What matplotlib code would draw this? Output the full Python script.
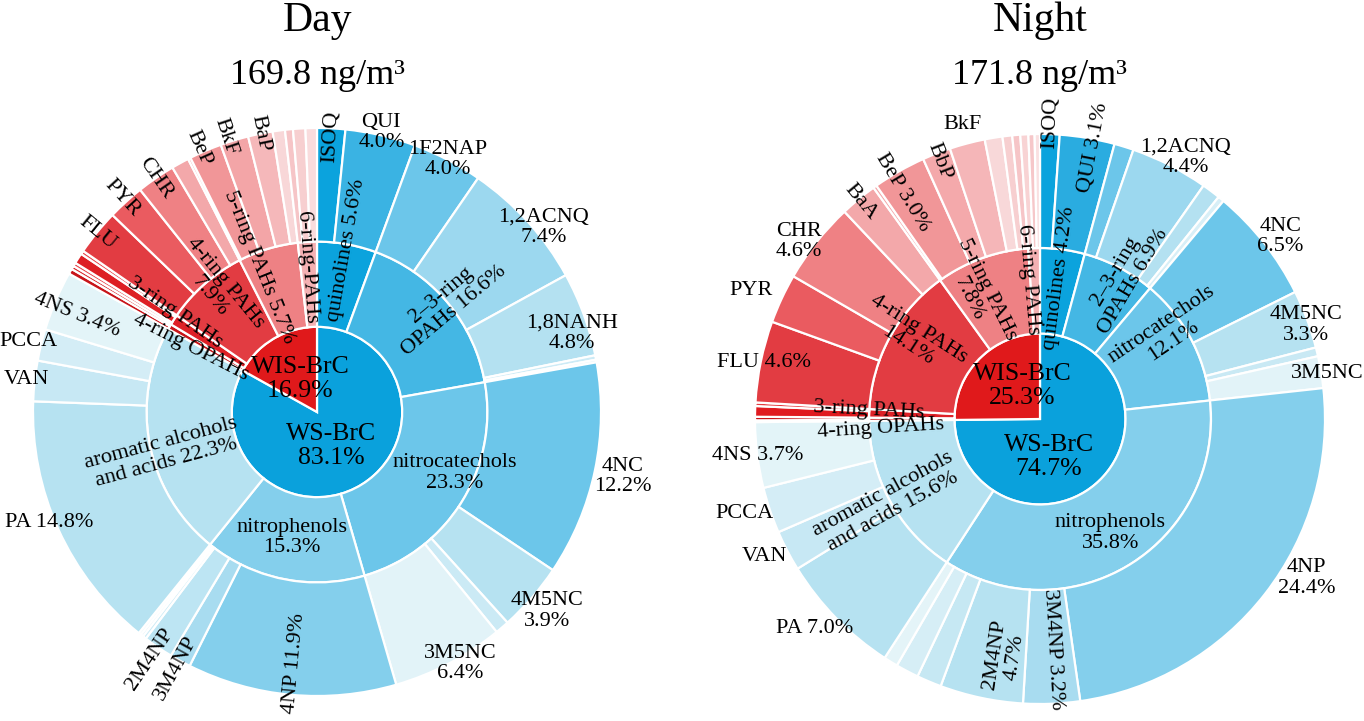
import matplotlib
matplotlib.use("Agg")
import matplotlib.pyplot as plt
import numpy as np

plt.rcParams['font.family'] = ['Liberation Serif', 'DejaVu Serif']

# ======================= DATA =======================
class_names = ["WS-BrC", "WIS-BrC"]

# ---- Day ----
day_title = "Day"
day_total = "169.8 ng/m³"
day_groups = ["quinolines", "2–3-ring OPAHs", "nitrocatechols", "nitrophenols",
              "aromatic alcohols and acids", "4-ring OPAHs", "3-ring PAHs",
              "4-ring PAHs", "5-ring PAHs", "6-ring PAHs"]
day_group_class = ["WS-BrC"] * 5 + ["WIS-BrC"] * 5
day_species = [
    ["ISOQ", "QUI"],
    ["1F2NAP", "1,2ACNQ", "1,8NANH", "", ""],
    ["4NC", "4M5NC", "", "3M5NC"],
    ["4NP", "3M4NP", "2M4NP", "", "", ""],
    ["PA", "VAN", "PCCA", "4NS"],
    ["", ""],
    ["", "", ""],
    ["FLU", "PYR", "CHR", "BaA"],
    ["", "BeP", "BkF", "BaP", ""],
    ["", "", ""],
]
day_values = [
    [1.6, 4.0],
    [4.0, 7.4, 4.8, 0.25, 0.15],
    [12.2, 3.9, 0.8, 6.4],
    [11.9, 1.2, 1.7, 0.2, 0.15, 0.15],
    [14.8, 2.3, 1.8, 3.4],
    [0.3, 0.2],
    [0.2, 0.6, 0.2],
    [2.6, 2.1, 2.2, 1.0],
    [0.15, 1.85, 1.6, 1.4, 0.7],
    [0.45, 0.7, 0.65],
]

# ---- Night ----
night_title = "Night"
night_total = "171.8 ng/m³"
night_groups = list(day_groups)
night_group_class = ["WS-BrC"] * 5 + ["WIS-BrC"] * 5
night_species = [
    ["ISOQ", "QUI"],
    ["", "1,2ACNQ", "", ""],
    ["4NC", "4M5NC", "", "3M5NC"],
    ["4NP", "3M4NP", "2M4NP", "", "", ""],
    ["PA", "VAN", "PCCA", "4NS"],
    ["", ""],
    ["", ""],
    ["FLU", "PYR", "CHR", "BaA"],
    ["", "BeP", "BbP", "BkF", "", "", ""],
    ["", "", ""],
]
night_values = [
    [1.1, 3.1],
    [1.1, 4.4, 1.05, 0.35],
    [6.5, 3.3, 0.5, 1.8],
    [24.4, 3.2, 4.7, 1.4, 1.3, 0.8],
    [7.0, 2.3, 2.6, 3.7],
    [0.1, 0.2],
    [0.6, 0.2],
    [4.6, 2.8, 4.6, 2.1],
    [0.2, 3.0, 1.6, 2.0, 1.0, 0.55, 0.45],
    [0.45, 0.35, 0.3],
]

# ---- label texts ----
day_class_labels = {"WS-BrC": "WS-BrC\n83.1%", "WIS-BrC": "WIS-BrC\n16.9%"}
night_class_labels = {"WS-BrC": "WS-BrC\n74.7%", "WIS-BrC": "WIS-BrC\n25.3%"}

day_group_labels = {
    "quinolines": "quinolines 5.6%",
    "2–3-ring OPAHs": "2–3-ring\nOPAHs 16.6%",
    "nitrocatechols": "nitrocatechols\n23.3%",
    "nitrophenols": "nitrophenols\n15.3%",
    "aromatic alcohols and acids": "aromatic alcohols\nand acids 22.3%",
    "4-ring OPAHs": "4-ring OPAHs",
    "3-ring PAHs": "3-ring PAHs",
    "4-ring PAHs": "4-ring PAHs\n7.9%",
    "5-ring PAHs": "5-ring PAHs 5.7%",
    "6-ring PAHs": "6-ring-PAHs",
}
night_group_labels = {
    "quinolines": "quinolines 4.2%",
    "2–3-ring OPAHs": "2–3-ring\nOPAHs 6.9%",
    "nitrocatechols": "nitrocatechols\n12.1%",
    "nitrophenols": "nitrophenols\n35.8%",
    "aromatic alcohols and acids": "aromatic alcohols\nand acids 15.6%",
    "4-ring OPAHs": "4-ring OPAHs",
    "3-ring PAHs": "3-ring PAHs",
    "4-ring PAHs": "4-ring PAHs\n14.1%",
    "5-ring PAHs": "5-ring PAHs\n7.8%",
    "6-ring PAHs": "6-ring PAHs",
}
day_species_labels = {
    "ISOQ": "ISOQ", "QUI": "QUI\n4.0%", "1F2NAP": "1F2NAP\n4.0%",
    "1,2ACNQ": "1,2ACNQ\n7.4%", "1,8NANH": "1,8NANH\n4.8%",
    "4NC": "4NC\n12.2%", "4M5NC": "4M5NC\n3.9%", "3M5NC": "3M5NC\n6.4%",
    "4NP": "4NP 11.9%", "3M4NP": "3M4NP", "2M4NP": "2M4NP",
    "PA": "PA 14.8%", "VAN": "VAN", "PCCA": "PCCA", "4NS": "4NS 3.4%",
    "FLU": "FLU", "PYR": "PYR", "CHR": "CHR",
    "BeP": "BeP", "BkF": "BkF", "BaP": "BaP",
}
night_species_labels = {
    "ISOQ": "ISOQ", "QUI": "QUI 3.1%", "1,2ACNQ": "1,2ACNQ\n4.4%",
    "4NC": "4NC\n6.5%", "4M5NC": "4M5NC\n3.3%", "3M5NC": "3M5NC",
    "4NP": "4NP\n24.4%", "3M4NP": "3M4NP 3.2%", "2M4NP": "2M4NP\n4.7%",
    "PA": "PA 7.0%", "VAN": "VAN", "PCCA": "PCCA", "4NS": "4NS 3.7%",
    "FLU": "FLU 4.6%", "PYR": "PYR", "CHR": "CHR\n4.6%",
    "BaA": "BaA", "BeP": "BeP 3.0%", "BbP": "BbP", "BkF": "BkF",
}

# ======================= STYLE =======================
class_colors = {"WS-BrC": "#0aa1dc", "WIS-BrC": "#e0191b"}
group_colors = ["#0ba3dd", "#44b7e4", "#6cc6ea", "#84cfec", "#b6e2f1",
                "#c8151a", "#de2127", "#e23c42", "#ee8184", "#f4b1b3"]
day_species_colors = [
    ["#0ba3dd", "#3ab3e3"],
    ["#6cc6ea", "#9cd8ef", "#b4e1f1", "#cdebf6", "#e3f4f9"],
    ["#6cc6ea", "#b6e2f1", "#cbeaf5", "#e2f3f8"],
    ["#84cfec", "#a8dcf0", "#bde5f3", "#cfecf6", "#dcf1f8", "#e8f6fa"],
    ["#b6e2f1", "#c7e8f4", "#d4edf6", "#e3f4f8"],
    ["#c8151a", "#d9262b"],
    ["#e8474c", "#dd1f24", "#e8474c"],
    ["#e23c42", "#ea5b60", "#ef8184", "#f3a8aa"],
    ["#f3a8aa", "#f19698", "#f3a5a7", "#f5b8ba", "#f8d7d8"],
    ["#f6c5c7", "#f7cfd0", "#f9dcdd"],
]
night_species_colors = [
    ["#0ba3dd", "#2aace0"],
    ["#6cc6ea", "#9cd8ef", "#b4e1f1", "#d8eff7"],
    ["#6cc6ea", "#b6e2f1", "#c9e9f4", "#e2f3f8"],
    ["#84cfec", "#a8dcf0", "#b6e2f1", "#c6e8f3", "#d6eef6", "#e4f4f8"],
    ["#b6e2f1", "#c7e8f4", "#d4edf6", "#e3f4f8"],
    ["#d11a1e", "#c8151a"],
    ["#e01b20", "#e43a3f"],
    ["#e23c42", "#ea5b60", "#ef8184", "#f3a8aa"],
    ["#f3a8aa", "#f19698", "#f4a9ab", "#f5b6b8", "#f8d8d9", "#f7cfd0", "#f6c5c7"],
    ["#f8d3d4", "#f6c7c9", "#fae0e1"],
]

# label placement: name -> (radius fraction, mode, angular offset deg)
day_class_pos = {"WS-BrC": (0.13, 'h', 8), "WIS-BrC": (0.13, 'h', 3)}
night_class_pos = {"WS-BrC": (0.137, 'h', 32), "WIS-BrC": (0.132, 'h', 16.5)}
day_group_pos = {
    "quinolines": (0.58, 'r', 0), "2–3-ring OPAHs": (0.60, 'r', 0),
    "nitrocatechols": (0.53, 'h', -8), "nitrophenols": (0.45, 'h', 0),
    "aromatic alcohols and acids": (0.56, 'r', -4), "4-ring OPAHs": (0.50, 'r', -3),
    "3-ring PAHs": (0.61, 'r', 2), "4-ring PAHs": (0.556, 'r', 2),
    "5-ring PAHs": (0.55, 'r', -5), "6-ring PAHs": (0.51, 'r', -1),
}
night_group_pos = {
    "quinolines": (0.50, 'r', 0), "2–3-ring OPAHs": (0.58, 'r', 3),
    "nitrocatechols": (0.54, 'r', -6), "nitrophenols": (0.47, 'h', 0),
    "aromatic alcohols and acids": (0.61, 'r', 0), "4-ring OPAHs": (0.56, 'r', -3.5),
    "3-ring PAHs": (0.60, 'r', 1), "4-ring PAHs": (0.53, 'r', 4),
    "5-ring PAHs": (0.49, 'r', -6.5), "6-ring PAHs": (0.49, 'r', -3),
}
day_species_pos = {
    "ISOQ": (0.97, 'r', 0), "QUI": (1.01, 'h', 0), "1F2NAP": (1.0, 'h', 0),
    "1,2ACNQ": (1.03, 'h', 3), "1,8NANH": (0.94, 'h', 3), "4NC": (1.1, 'h', 0),
    "4M5NC": (1.07, 'h', 0), "3M5NC": (1.02, 'h', -2), "4NP": (0.89, 'r', 0),
    "3M4NP": (1.03, 'r', 0), "2M4NP": (1.05, 'r', 0), "PA": (1.02, 'h', 2),
    "VAN": (1.03, 'h', 0), "PCCA": (1.045, 'h', 0), "4NS": (0.91, 'r', -1),
    "FLU": (1.0, 'r', 0), "PYR": (1.02, 'r', 0), "CHR": (1.0, 'r', 0),
    "BeP": (1.02, 'r', -1), "BkF": (1.02, 'r', -1.5), "BaP": (1.0, 'r', 0),
}
night_species_pos = {
    "ISOQ": (1.04, 'r', 0), "QUI": (0.97, 'r', 1.5), "1,2ACNQ": (1.05, 'h', 2),
    "4NC": (1.06, 'h', 1), "4M5NC": (0.99, 'h', 1), "3M5NC": (1.02, 'h', 0.5),
    "4NP": (1.09, 'h', -7), "3M4NP": (0.81, 'r', -1), "2M4NP": (0.84, 'r', -3.5),
    "PA": (1.08, 'h', 1.5), "VAN": (1.08, 'h', 1), "PCCA": (1.09, 'h', 1),
    "4NS": (1.0, 'h', 0), "FLU": (0.99, 'h', 0), "PYR": (1.11, 'h', -1),
    "CHR": (1.05, 'h', -2), "BaA": (0.99, 'r', 0), "BeP": (0.93, 'r', -1.5),
    "BbP": (0.97, 'r', 0), "BkF": (1.07, 'h', 0),
}

FIG_W, FIG_H = 1364, 721
R1, R2 = 0.30, 0.60
LABEL_SIZE = 16
CENTER_SIZE = 18.5
EDGE = dict(edgecolor='white', linewidth=1.6)


def put_label(ax, text, theta, r, mode, size):
    t = np.deg2rad(theta)
    x, y = r * np.sin(t), r * np.cos(t)
    rot = 0
    if mode == 'r':
        rot = 90 - theta
        rot = ((rot + 90) % 180) - 90
    ax.text(x, y, text, ha='center', va='center', rotation=rot,
            rotation_mode='anchor', fontsize=size, multialignment='center',
            linespacing=1.1, clip_on=False, color='black')


def sunburst(ax, groups, gclass, species, values, sp_colors,
             class_lab, group_lab, sp_lab, class_pos, group_pos, sp_pos):
    leaf_vals = [v for vs in values for v in vs]
    leaf_names = [n for ns in species for n in ns]
    leaf_cols = [c for cs in sp_colors for c in cs]
    group_vals = [sum(vs) for vs in values]
    class_vals = [sum(g for g, c in zip(group_vals, gclass) if c == cn) for cn in class_names]
    total = sum(leaf_vals)

    common = dict(startangle=90, counterclock=False)
    ax.pie(class_vals, radius=R1, colors=[class_colors[c] for c in class_names],
           wedgeprops=dict(width=R1, **EDGE), **common)
    ax.pie(group_vals, radius=R2, colors=group_colors,
           wedgeprops=dict(width=R2 - R1, **EDGE), **common)
    ax.pie(leaf_vals, radius=1.0, colors=leaf_cols,
           wedgeprops=dict(width=1.0 - R2, **EDGE), **common)

    def mids(vals):
        c = np.cumsum([0] + list(vals))
        return [(c[i] + vals[i] / 2) / total * 360 for i in range(len(vals))]

    for cn, th in zip(class_names, mids(class_vals)):
        r, m, d = class_pos[cn]
        put_label(ax, class_lab[cn], th + d, r, m, CENTER_SIZE)
    for gn, th in zip(groups, mids(group_vals)):
        r, m, d = group_pos[gn]
        put_label(ax, group_lab[gn], th + d, r, m, LABEL_SIZE)
    for sn, th in zip(leaf_names, mids(leaf_vals)):
        if sn and sn in sp_lab:
            r, m, d = sp_pos[sn]
            put_label(ax, sp_lab[sn], th + d, r, m, LABEL_SIZE)
    ax.set_xlim(-1.25, 1.25)
    ax.set_ylim(-1.25, 1.25)
    ax.set_aspect('equal')
    ax.axis('off')


def make_axes(fig, cx, cy, R):
    half = 1.25 * R
    return fig.add_axes([(cx - half) / FIG_W, (FIG_H - cy - half) / FIG_H,
                         2 * half / FIG_W, 2 * half / FIG_H])


fig = plt.figure(figsize=(FIG_W / 100, FIG_H / 100), dpi=100)
fig.patch.set_facecolor('white')

ax_day = make_axes(fig, 317, 412, 284)
sunburst(ax_day, day_groups, day_group_class, day_species, day_values,
         day_species_colors, day_class_labels, day_group_labels,
         day_species_labels, day_class_pos, day_group_pos, day_species_pos)

ax_night = make_axes(fig, 1040, 419, 285)
sunburst(ax_night, night_groups, night_group_class, night_species, night_values,
         night_species_colors, night_class_labels, night_group_labels,
         night_species_labels, night_class_pos, night_group_pos, night_species_pos)

for cx, title, sub in [(318, day_title, day_total), (1040, night_title, night_total)]:
    fig.text(cx / FIG_W, 1 - 31 / FIG_H, title, ha='center', va='baseline', fontsize=30)
    fig.text(cx / FIG_W, 1 - 84 / FIG_H, sub, ha='center', va='baseline', fontsize=26)

fig.savefig("out.png", dpi=100, facecolor='white')
